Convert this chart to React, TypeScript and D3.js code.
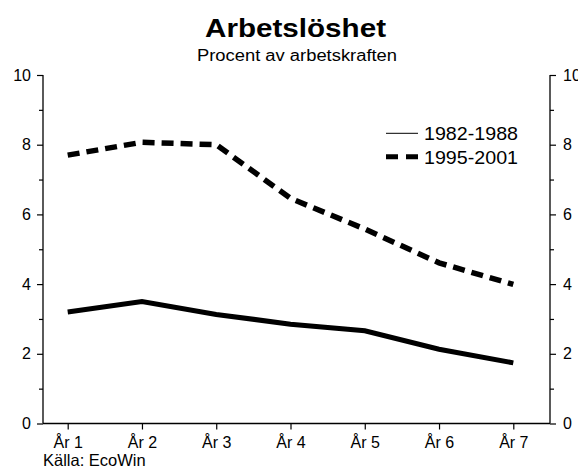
import React, { useEffect, useRef } from 'react';
import * as d3 from 'd3';

const years = ['År 1', 'År 2', 'År 3', 'År 4', 'År 5', 'År 6', 'År 7'];
const series1982 = [3.2, 3.5, 3.13, 2.85, 2.66, 2.13, 1.74];
const series1995 = [7.7, 8.07, 8.0, 6.46, 5.58, 4.61, 3.99];
const yTicks = [0, 1, 2, 3, 4, 5, 6, 7, 8, 9, 10];

const W = 578;
const H = 469;
const FONT = 'Liberation Sans, Arial, sans-serif';

const App = () => {
  const ref = useRef<SVGSVGElement>(null);

  useEffect(() => {
    const svg = d3.select(ref.current);
    svg.selectAll('*').remove();

    const left = 43;
    const right = 550;

    const x = d3.scalePoint<string>().domain(years).range([67.7, 513.3]);
    const y = d3.scaleLinear().domain([0, 10]).range([423.5, 75]);

    // title
    svg
      .append('text')
      .attr('x', 205)
      .attr('y', 37)
      .attr('font-family', FONT)
      .attr('font-weight', 'bold')
      .attr('font-size', 26)
      .attr('textLength', 181)
      .attr('lengthAdjust', 'spacingAndGlyphs')
      .text('Arbetslöshet');

    svg
      .append('text')
      .attr('x', 197)
      .attr('y', 61)
      .attr('font-family', FONT)
      .attr('font-size', 16)
      .attr('textLength', 200)
      .attr('lengthAdjust', 'spacingAndGlyphs')
      .text('Procent av arbetskraften');

    const g = svg.append('g').attr('font-family', FONT);

    // y axes
    const axisL = d3
      .axisLeft(y)
      .tickValues(yTicks)
      .tickSize(6)
      .tickPadding(6)
      .tickFormat((d) => ((d as number) % 2 === 0 ? String(d) : ''));
    const axisR = d3
      .axisRight(y)
      .tickValues(yTicks)
      .tickSize(6)
      .tickPadding(7)
      .tickFormat((d) => ((d as number) % 2 === 0 ? String(d) : ''));

    [
      { axis: axisL, pos: left, dir: -1 },
      { axis: axisR, pos: right, dir: 1 },
    ].forEach(({ axis, pos, dir }) => {
      const a = g
        .append('g')
        .attr('transform', `translate(${pos},0)`)
        .call(axis);
      a.select('.domain').attr('d', `M0,${y(10)}V${y(0)}`).attr('stroke-width', 1.3);
      a.selectAll('.tick line')
        .attr('x2', (d) => dir * ((d as number) % 2 === 0 ? 6 : 4))
        .attr('stroke-width', 1.2);
      a.selectAll('.tick text').attr('font-size', 16).attr('fill', '#000');
    });

    // x axis
    const xa = g
      .append('g')
      .attr('transform', `translate(0,${y(0)})`)
      .call(d3.axisBottom(x).tickSize(6).tickPadding(7));
    xa.select('.domain').attr('d', `M${left},0H${right}`).attr('stroke-width', 1.3);
    xa.selectAll('.tick line').attr('stroke-width', 1.2);
    xa.selectAll('.tick text').attr('font-size', 16).attr('fill', '#000');

    const line = d3
      .line<number>()
      .x((_, i) => x(years[i]) as number)
      .y((d) => y(d));

    g.append('path')
      .datum(series1982)
      .attr('fill', 'none')
      .attr('stroke', '#000')
      .attr('stroke-width', 5)
      .attr('d', line);

    g.append('path')
      .datum(series1995)
      .attr('fill', 'none')
      .attr('stroke', '#000')
      .attr('stroke-width', 5.5)
      .attr('stroke-dasharray', '12,7')
      .attr('d', line);

    // legend
    const legend = [
      { label: '1982-1988', width: 1, dash: null, y: 133.3 },
      { label: '1995-2001', width: 5, dash: '12,8', y: 156.7 },
    ];
    legend.forEach((l) => {
      g.append('line')
        .attr('x1', 386)
        .attr('x2', 418)
        .attr('y1', l.y)
        .attr('y2', l.y)
        .attr('stroke', '#000')
        .attr('stroke-width', l.width)
        .attr('stroke-dasharray', l.dash);
      g.append('text')
        .attr('x', 424)
        .attr('y', l.y + 7)
        .attr('font-size', 19)
        .attr('textLength', 94)
        .attr('lengthAdjust', 'spacingAndGlyphs')
        .text(l.label);
    });

    g.append('text')
      .attr('x', 43)
      .attr('y', 466)
      .attr('font-size', 16.5)
      .text('Källa: EcoWin');
  }, []);

  return (
    <svg
      ref={ref}
      width={W}
      height={H}
      style={{ position: 'absolute', left: 0, top: 0, background: '#fff' }}
    />
  );
};

export default App;
